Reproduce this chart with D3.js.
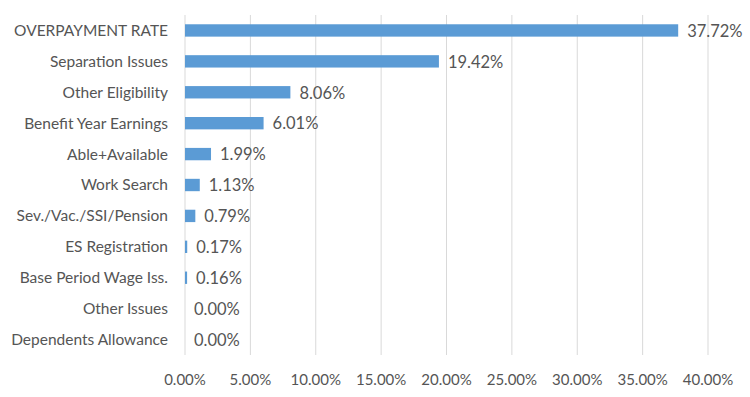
<!DOCTYPE html>
<html lang="en">
<head>
<meta charset="UTF-8">
<title>Overpayment Rate</title>
<script src="https://d3js.org/d3.v7.min.js"></script>
<style>
  body { margin: 0; background: #fff; }
  text { font-family: Lato, "Open Sans", sans-serif; fill: #555; }
</style>
</head>
<body>
<script>
  // categories top to bottom, values in percent
  const categories = ['OVERPAYMENT RATE', 'Separation Issues', 'Other Eligibility',
    'Benefit Year Earnings', 'Able+Available', 'Work Search', 'Sev./Vac./SSI/Pension',
    'ES Registration', 'Base Period Wage Iss.', 'Other Issues', 'Dependents Allowance'];
  const values = [37.72, 19.42, 8.06, 6.01, 1.99, 1.13, 0.79, 0.17, 0.16, 0.00, 0.00];
  const ticks = [0, 5, 10, 15, 20, 25, 30, 35, 40];

  const W = 750, H = 397;
  const margin = { top: 15, right: 42, bottom: 42, left: 185 };
  const width = W - margin.left - margin.right;
  const height = H - margin.top - margin.bottom;

  const svg = d3.select('body').append('svg')
    .attr('width', W)
    .attr('height', H);
  const g = svg.append('g')
    .attr('transform', 'translate(' + margin.left + ',' + margin.top + ')');

  const x = d3.scaleLinear().domain([0, 40]).range([0, width]);
  const y = d3.scaleBand().domain(categories).range([0, height]).paddingInner(0.6).paddingOuter(0.3);

  // gridlines
  g.selectAll('.grid')
    .data(ticks)
    .enter().append('line')
    .attr('x1', d => x(d)).attr('x2', d => x(d))
    .attr('y1', 0).attr('y2', height)
    .attr('stroke', '#d9d9d9')
    .attr('stroke-width', 1);

  // x tick labels
  g.selectAll('.tick-label')
    .data(ticks)
    .enter().append('text')
    .attr('x', d => x(d))
    .attr('y', height + 30)
    .attr('text-anchor', 'middle')
    .style('font-size', '15px')
    .text(d => d.toFixed(2) + '%');

  // category labels
  g.selectAll('.cat')
    .data(categories)
    .enter().append('text')
    .attr('x', -17)
    .attr('y', d => y(d) + y.bandwidth() / 2)
    .attr('dy', '0.35em')
    .attr('text-anchor', 'end')
    .style('font-size', '15.5px')
    .text(d => d);

  // bars
  g.selectAll('.bar')
    .data(values)
    .enter().append('rect')
    .attr('x', x(0))
    .attr('y', (d, i) => y(categories[i]))
    .attr('width', d => x(d) - x(0))
    .attr('height', y.bandwidth())
    .attr('fill', '#5b9bd5');

  // value labels
  g.selectAll('.val')
    .data(values)
    .enter().append('text')
    .attr('x', d => x(d) + 9)
    .attr('y', (d, i) => y(categories[i]) + y.bandwidth() / 2)
    .attr('dy', '0.38em')
    .style('font-size', '16.5px')
    .text(d => d.toFixed(2) + '%');
</script>
</body>
</html>
